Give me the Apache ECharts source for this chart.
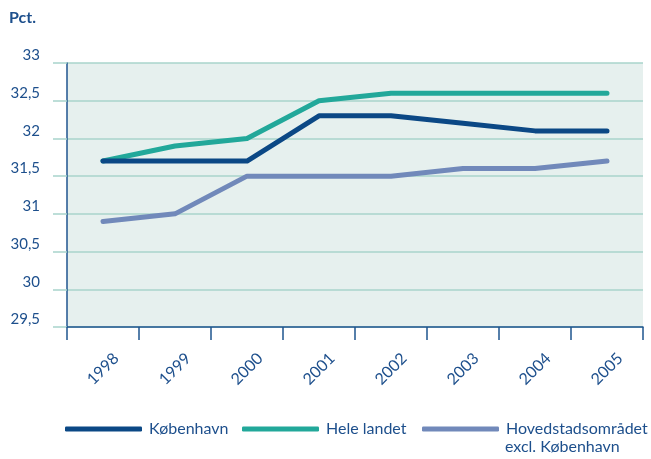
<!DOCTYPE html>
<html>
<head>
<meta charset="utf-8">
<script src="https://cdn.jsdelivr.net/npm/echarts@6/dist/echarts.min.js"></script>
<style>
html,body{margin:0;padding:0;background:#fff;}
#chart{width:651px;height:459px;}
</style>
</head>
<body>
<div id="chart"></div>
<script>
const categories = ['1998','1999','2000','2001','2002','2003','2004','2005'];
const kobenhavn = [31.7, 31.7, 31.7, 32.3, 32.3, 32.2, 32.1, 32.1];
const heleLandet = [31.7, 31.9, 32.0, 32.5, 32.6, 32.6, 32.6, 32.6];
const hovedstad = [30.9, 31.0, 31.5, 31.5, 31.5, 31.6, 31.6, 31.7];
const seriesNames = ['København', 'Hele landet', 'Hovedstadsområdet'];
const hovedstadLine2 = 'excl. København';
const yAxisTitle = 'Pct.';

const textColor = '#1d4f8c';
const fontFamily = 'Lato, "Open Sans", sans-serif';
const legendLefts = [65, 242, 422];
const legendBase = {
  top: 421,
  itemWidth: 77, itemHeight: 5,
  icon: 'roundRect',
  padding: 0,
  textStyle: { color: textColor, fontSize: 16, fontFamily: fontFamily, padding: [0, 0, 0, 2] }
};
const chart = echarts.init(document.getElementById('chart'));
chart.setOption({
  animation: false,
  textStyle: { fontFamily: fontFamily },
  grid: {
    left: 67, right: 8, top: 63, bottom: 132,
    show: true, backgroundColor: '#e6f0ee', borderWidth: 0
  },
  graphic: [
    { type: 'text', left: 9, top: 10, style: { text: yAxisTitle, fill: textColor, font: 'bold 16px ' + fontFamily } },
    { type: 'text', left: 505, top: 439, style: { text: hovedstadLine2, fill: textColor, font: '16px ' + fontFamily } }
  ],
  legend: seriesNames.map((n, i) => Object.assign({}, legendBase, { left: legendLefts[i], data: [n] })),
  xAxis: {
    type: 'category',
    data: categories,
    boundaryGap: true,
    axisLine: { show: true, lineStyle: { color: '#1f558f', width: 1.5 } },
    axisTick: { show: true, length: 13, lineStyle: { color: '#1f558f', width: 1.5 } },
    axisLabel: { rotate: 45, align: 'center', margin: 42, color: textColor, fontSize: 16, fontFamily: fontFamily },
    splitLine: { show: false }
  },
  yAxis: {
    type: 'value',
    min: 29.5, max: 33, interval: 0.5,
    axisLine: { show: true, lineStyle: { color: '#1f558f', width: 1.5 } },
    axisTick: { show: true, length: 14, lineStyle: { color: '#a8d4cb', width: 1.5 } },
    axisLabel: {
      margin: 27, color: textColor, fontSize: 15, fontFamily: fontFamily,
      verticalAlign: 'bottom', lineHeight: 15,
      formatter: v => String(v).replace('.', ',')
    },
    splitLine: { show: true, lineStyle: { color: '#a8d4cb', width: 1.5 } }
  },
  series: [
    { name: seriesNames[0], type: 'line', data: kobenhavn, symbol: 'none', color: '#0b4885',
      lineStyle: { width: 5, cap: 'round', join: 'round' }, z: 4 },
    { name: seriesNames[1], type: 'line', data: heleLandet, symbol: 'none', color: '#22a89a',
      lineStyle: { width: 5, cap: 'round', join: 'round' }, z: 3 },
    { name: seriesNames[2], type: 'line', data: hovedstad, symbol: 'none', color: '#7189ba',
      lineStyle: { width: 5, cap: 'round', join: 'round' }, z: 3 }
  ]
});
</script>
</body>
</html>
